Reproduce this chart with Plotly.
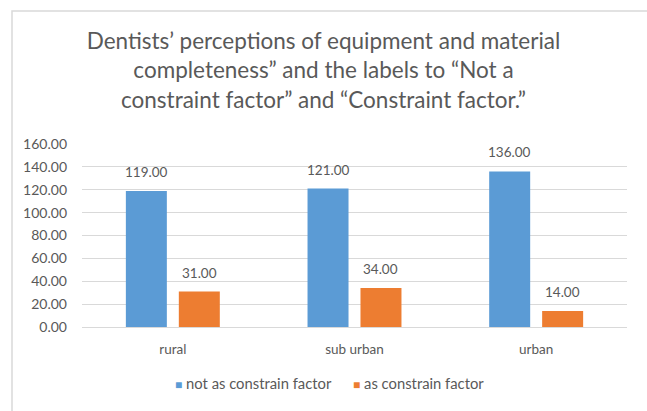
import plotly.graph_objects as go

# Survey results by practice area
categories = ["rural", "sub urban", "urban"]
not_constraint = [119.00, 121.00, 136.00]
constraint = [31.00, 34.00, 14.00]
series_names = ["not as constrain factor", "as constrain factor"]
y_ticks = [0, 20, 40, 60, 80, 100, 120, 140, 160]

TEXT = "#595959"
FONT = "Lato, 'Open Sans', sans-serif"
COLORS = ["#5B9BD5", "#ED7D31"]

# plot-area geometry (pixels)
W, H = 647, 411
L, R, T, B = 82, 20, 144, 84
plot_w, plot_h = W - L - R, H - T - B
BARGAP, GROUPGAP = 0.417, 0.226
cat_w = plot_w / len(categories)
slot = cat_w * (1 - BARGAP) / 2
bar_offsets = [-slot / 2, slot / 2]


def px_x(px):
    return (px - L) / plot_w


def px_y(py):
    return ((H - B) - py) / plot_h


fig = go.Figure()
annotations = []
for i, (name, vals) in enumerate([(series_names[0], not_constraint),
                                  (series_names[1], constraint)]):
    fig.add_trace(go.Bar(
        x=categories, y=vals, name=name, showlegend=False,
        marker=dict(color=COLORS[i], line=dict(width=0)),
    ))
    for c, v in zip(categories, vals):
        annotations.append(dict(
            x=c, y=v, xref="x", yref="y", text=f"{v:.2f}", showarrow=False,
            xshift=bar_offsets[i], yshift=19, yanchor="middle",
            font=dict(size=13.5, color=TEXT, family=FONT),
        ))

# legend row: coloured square followed by the series name
for name, color, left in zip(series_names, COLORS, [173, 351]):
    annotations.append(dict(
        x=px_x(left), y=px_y(383), xref="paper", yref="paper",
        xanchor="left", yanchor="middle", showarrow=False,
        text=f"<span style='color:{color};font-size:12px'>■</span> {name}",
        font=dict(size=14.8, color=TEXT, family=FONT),
    ))

fig.update_layout(
    width=W, height=H,
    margin=dict(l=L, r=R, t=T, b=B),
    paper_bgcolor="white", plot_bgcolor="white",
    font=dict(family=FONT, color=TEXT, size=13),
    barmode="group", bargap=BARGAP, bargroupgap=GROUPGAP,
    showlegend=False,
    title=dict(
        text="Dentists’ perceptions of equipment and material<br>"
             "completeness” and the labels to “Not a<br>"
             "constraint factor” and “Constraint factor.”",
        x=0.5, xref="container", xanchor="center",
        y=1 - 49 / H, yref="container", yanchor="middle",
        font=dict(size=22.5, color=TEXT, family=FONT),
    ),
    xaxis=dict(showgrid=False, showline=False, ticks="",
               ticklabelstandoff=12,
               tickfont=dict(size=13.5, color=TEXT)),
    yaxis=dict(range=[0, 160], tickvals=y_ticks, tickformat=".2f",
               showgrid=True, gridcolor="#d9d9d9", gridwidth=1,
               zeroline=True, zerolinecolor="#d9d9d9", zerolinewidth=1,
               showline=False, ticks="", ticklabelstandoff=14,
               tickfont=dict(size=14, color=TEXT)),
    annotations=annotations,
    shapes=[dict(type="rect", xref="paper", yref="paper",
                 x0=px_x(12), x1=1.1, y0=-0.6, y1=px_y(11),
                 line=dict(color="#d9d9d9", width=1.5), layer="below")],
)

fig.write_html("out.html")
